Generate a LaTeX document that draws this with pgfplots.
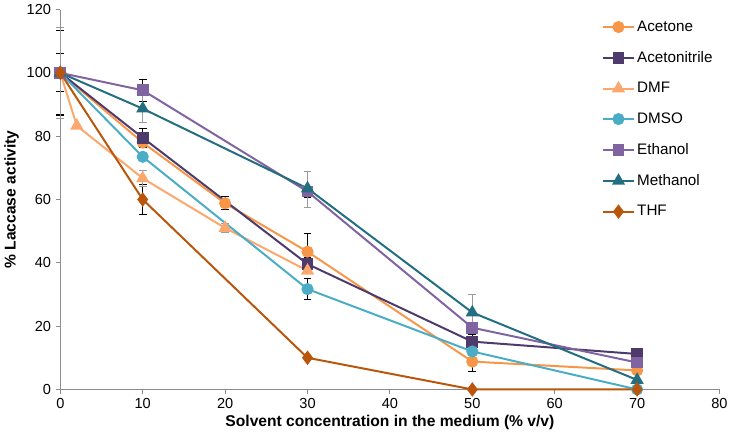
\documentclass[border=0pt]{standalone}
\usepackage{fontspec}
\setmainfont{Liberation Sans}
\usepackage{pgfplots}
\pgfplotsset{compat=1.18}
\definecolor{cAce}{HTML}{F79646}
\definecolor{cAcn}{HTML}{4E3B6B}
\definecolor{cDMF}{HTML}{FBA86E}
\definecolor{cDMSO}{HTML}{4BACC6}
\definecolor{cEth}{HTML}{8064A2}
\definecolor{cMet}{HTML}{236E80}
\definecolor{cTHF}{HTML}{B9560B}
\definecolor{axisgray}{HTML}{8C8C8C}
\definecolor{errgray}{HTML}{9A9A9A}
\pgfplotsset{
  errb/.style={forget plot, draw=none, mark=none,
    error bars/.cd, y dir=both, y explicit,
    error bar style={draw=#1, line width=0.8pt, solid},
    error mark options={rotate=90, mark size=3pt, draw=#1, line width=0.8pt}},
}
\begin{document}
\begin{tikzpicture}
\begin{axis}[
  scale only axis, width=498pt, height=287pt,
  xmin=0, xmax=80, ymin=0, ymax=120,
  xtick={0,10,...,80}, ytick={0,20,...,120},
  axis lines=left,
  axis line style={draw=axisgray, line width=0.8pt, -},
  tick style={draw=axisgray, line width=0.8pt},
  tick align=outside, major tick length=3.5pt,
  /pgf/number format/assume math mode=true,
  ticklabel style={font=\fontsize{11}{13}\selectfont},
  xlabel={Solvent concentration in the medium (\% v/v)},
  ylabel={\% Laccase activity},
  label style={font=\fontsize{11.8}{14}\selectfont\bfseries},
  xlabel style={yshift=2pt},
  ylabel style={yshift=-1pt},
  legend style={at={(0.816,0.985)}, anchor=north west, draw=none, fill=none,
    font=\fontsize{11.5}{13}\selectfont, row sep=9.6pt},
  legend cell align=left,
  legend image code/.code={\draw[mark repeat=2,mark phase=2] plot coordinates {(0cm,0cm)(0.4cm,0cm)(0.8cm,0cm)};},
  every axis plot/.append style={line width=1.5pt},
  clip=false,
]
% Acetone
\addplot[color=cAce, mark=*, mark size=3.8pt] coordinates {(0,100) (10,78) (20,58.8) (30,43.5) (50,8.8) (70,6)};
\addlegendentry{Acetone}
% Acetonitrile
\addplot[color=cAcn, mark=square*, mark size=3.7pt] coordinates {(0,100) (10,79.5) (30,39.6) (50,15.1) (70,11.2)};
\addlegendentry{Acetonitrile}
% DMF
\addplot[color=cDMF, mark=triangle*, mark size=4.3pt] coordinates {(0,100) (2,83.3) (10,66.7) (20,51) (30,37.5)};
\addlegendentry{DMF}
% DMSO
\addplot[color=cDMSO, mark=*, mark size=3.8pt] coordinates {(0,100) (10,73.5) (30,31.7) (50,12) (70,0)};
\addlegendentry{DMSO}
% Ethanol
\addplot[color=cEth, mark=square*, mark size=3.7pt] coordinates {(0,100) (10,94.5) (30,62.5) (50,19.5) (70,8.5)};
\addlegendentry{Ethanol}
% Methanol
\addplot[color=cMet, mark=triangle*, mark size=4.3pt] coordinates {(0,100) (10,88.7) (30,63.5) (50,24.3) (70,3)};
\addlegendentry{Methanol}
% THF
\addplot[color=cTHF, mark=diamond*, mark size=4.3pt] coordinates {(0,100) (10,60) (30,10) (50,0) (70,0)};
\addlegendentry{THF}
% error bars
\addplot[errb=black] coordinates {(0,100) +- (0,13.3) (0,100) +- (0,6) (10,79.5) +- (0,3) (10,60) +- (0,4.6) (10,94.5) +- (0,3.4) (20,58.8) +- (0,2.1) (30,43.5) +- (0,5.7) (30,62.4) +- (0,1.7) (30,31.7) +- (0,3.2) (30,39.6) +- (0,2) (50,8.8) +- (0,3.2) (50,15.1) +- (0,2.2) (50,19.5) +- (0,1.5)};
\addplot[errb=errgray] coordinates {(0,100) +- (0,14.3) (10,88.7) +- (0,4.3) (10,66.7) +- (0,2.5) (20,51) +- (0,1.5) (30,63.2) +- (0,5.6) (50,24.3) +- (0,5.6)};
\end{axis}
\end{tikzpicture}
\end{document}
